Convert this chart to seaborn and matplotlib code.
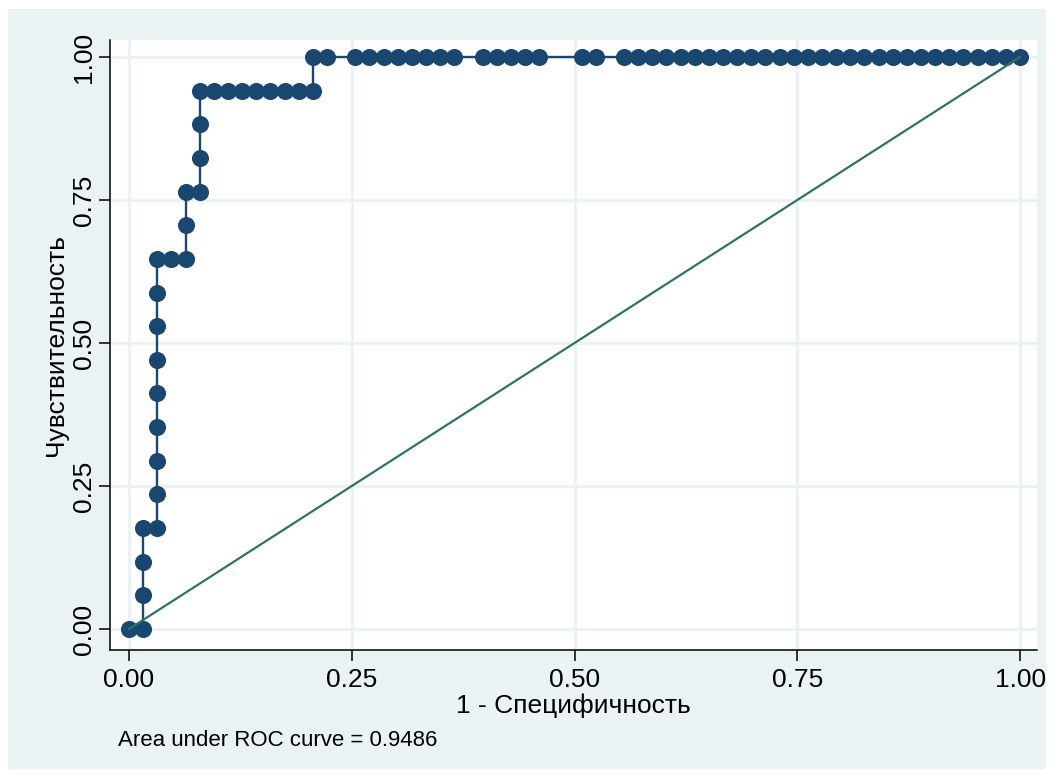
import numpy as np
import pandas as pd
import matplotlib
matplotlib.use("Agg")
import matplotlib.pyplot as plt
import seaborn as sns
from matplotlib.patches import Rectangle

# ROC points: counts of false / true positives
# (63 negatives, 17 positives)
n_neg = 63
n_pos = 17
fp_count = [0, 1, 1, 1, 1, 2, 2, 2, 2, 2, 2, 2, 2, 2, 3, 4, 4, 4, 5, 5, 5, 5,
            6, 7, 8, 9, 10, 11, 12, 13, 13, 14,
            16, 17, 18, 19, 20, 21, 22, 23,
            25, 26, 27, 28, 29, 32, 33,
            35, 36, 37, 38, 39, 40, 41, 42, 43, 44, 45, 46, 47, 48, 49,
            50, 51, 52, 53, 54, 55, 56, 57, 58, 59, 60, 61, 62, 63]
tp_count = [0, 0, 1, 2, 3, 3, 4, 5, 6, 7, 8, 9, 10, 11, 11, 11, 12, 13, 13, 14, 15, 16,
            16, 16, 16, 16, 16, 16, 16, 16, 17, 17,
            17, 17, 17, 17, 17, 17, 17, 17,
            17, 17, 17, 17, 17, 17, 17,
            17, 17, 17, 17, 17, 17, 17, 17, 17, 17, 17, 17, 17, 17, 17,
            17, 17, 17, 17, 17, 17, 17, 17, 17, 17, 17, 17, 17, 17]
ref_x = [0.0, 1.0]
ref_y = [0.0, 1.0]
ticks = [0.0, 0.25, 0.5, 0.75, 1.0]
tick_labels = ["0.00", "0.25", "0.50", "0.75", "1.00"]
auc_text = "Area under ROC curve = 0.9486"

roc = pd.DataFrame({
    "fpr": np.array(fp_count) / n_neg,
    "tpr": np.array(tp_count) / n_pos,
})
ref = pd.DataFrame({"x": ref_x, "y": ref_y})

sns.set_style("white")
plt.rcParams["font.family"] = ["Liberation Sans", "DejaVu Sans"]
plt.rcParams["text.color"] = "black"
plt.rcParams["axes.labelcolor"] = "black"
plt.rcParams["xtick.color"] = "black"
plt.rcParams["ytick.color"] = "black"

bg = "#EAF2F3"
navy = "#1A476F"

fig = plt.figure(figsize=(10.54, 7.74), dpi=100)
fig.patches.append(Rectangle((8 / 1054, 5 / 774), 1038 / 1054, 760 / 774,
                             transform=fig.transFigure, facecolor=bg,
                             edgecolor="none", zorder=-10))
ax = fig.add_axes([110 / 1054, 124 / 774, 927 / 1054, 610 / 774])
ax.set_zorder(1)
ax.set_facecolor("white")

for t in ticks:
    ax.axvline(t, color=bg, lw=2.2, zorder=0)
    ax.axhline(t, color=bg, lw=2.2, zorder=0)

sns.lineplot(data=roc, x="fpr", y="tpr", sort=False, estimator=None,
             color=navy, lw=1.7, marker="o", markersize=12.3,
             markeredgecolor=navy, markeredgewidth=0, ax=ax, zorder=3)
sns.lineplot(data=ref, x="x", y="y", color="#2F7362", lw=1.6, ax=ax, zorder=4)

ax.set_xlim(-0.0213, 1.019)
ax.set_ylim(-0.0367, 1.0297)
ax.set_xticks(ticks)
ax.set_xticklabels(tick_labels, fontsize=19)
ax.set_yticks(ticks)
ax.set_yticklabels(tick_labels, fontsize=19, rotation=90, va="center")
ax.tick_params(axis="both", direction="out", length=8, width=1.1,
               color="black", bottom=True, left=True)
ax.tick_params(axis="x", pad=5)
ax.tick_params(axis="y", pad=2)

for side in ["top", "right"]:
    ax.spines[side].set_visible(False)
for side in ["left", "bottom"]:
    ax.spines[side].set_color("black")
    ax.spines[side].set_linewidth(1.1)

ax.set_xlabel("1 - Специфичность", fontsize=19, labelpad=1)
ax.set_ylabel("Чувствительность", fontsize=19, labelpad=3)

fig.text(118 / 1054, 1 - 740 / 774, auc_text, fontsize=16, ha="left", va="center")

fig.savefig("out.png", dpi=100)
